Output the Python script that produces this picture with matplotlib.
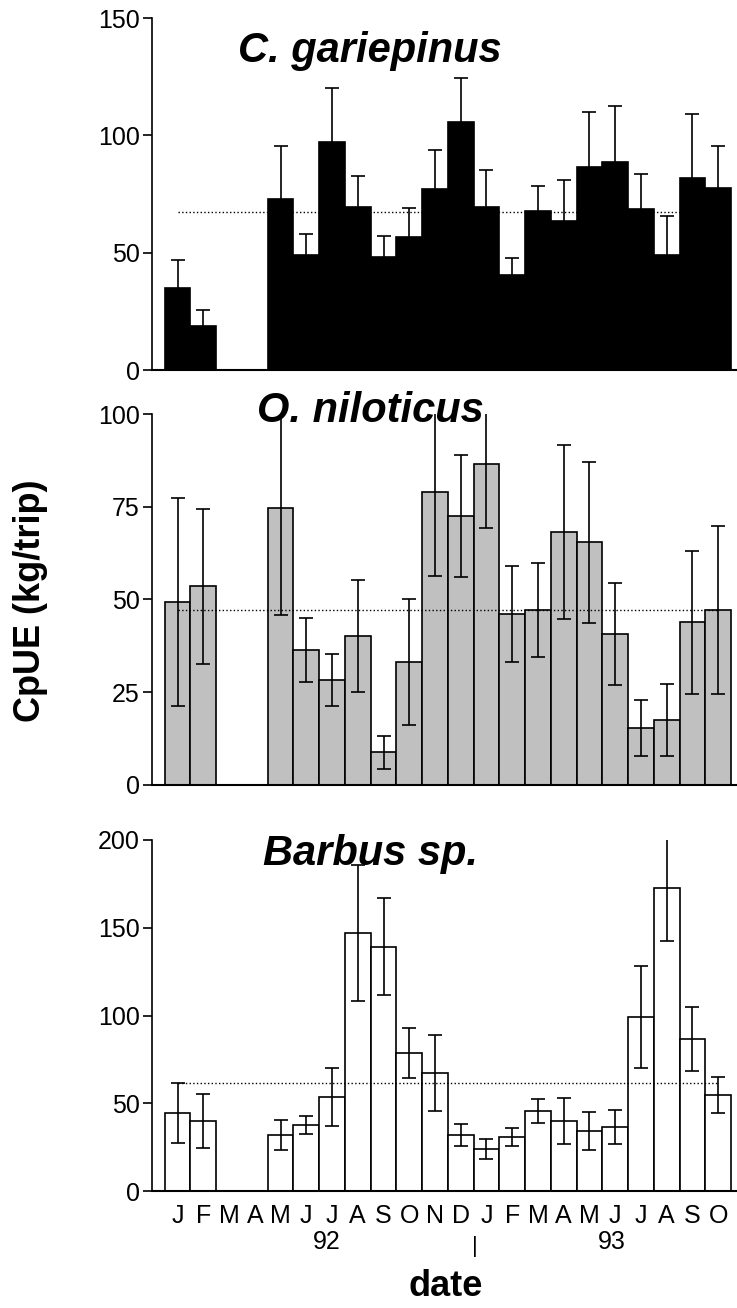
import numpy as np
import matplotlib
matplotlib.use('Agg')
import matplotlib.pyplot as plt

plt.rcParams['font.family'] = ['Liberation Sans', 'DejaVu Sans']

nan = np.nan
months = ['J', 'F', 'M', 'A', 'M', 'J', 'J', 'A', 'S', 'O', 'N', 'D',
          'J', 'F', 'M', 'A', 'M', 'J', 'J', 'A', 'S', 'O']

# C. gariepinus
clarias = [34.9, 18.9, nan, nan, 72.7, 48.9, 97.3, 69.3, 48.0, 56.5, 77.0,
           105.8, 69.3, 40.3, 67.6, 63.4, 86.4, 88.8, 68.5, 48.9, 82.0, 77.7]
clarias_err = [12.0, 6.7, nan, nan, 22.8, 8.9, 22.7, 13.4, 9.1, 12.7, 16.6,
               18.5, 15.9, 7.4, 10.8, 17.6, 23.5, 23.7, 15.0, 16.6, 27.1, 17.8]
clarias_mean = 67.3

# O. niloticus
oreo = [49.3, 53.6, nan, nan, 74.7, 36.4, 28.3, 40.1, 8.7, 33.0, 78.9,
        72.5, 86.5, 46.0, 47.2, 68.2, 65.4, 40.6, 15.2, 17.4, 43.8, 47.2]
oreo_err = [28.1, 20.9, nan, nan, 28.8, 8.7, 7.05, 15.2, 4.35, 17.0, 22.7,
            16.5, 17.3, 13.0, 12.75, 23.6, 21.75, 13.75, 7.55, 9.7, 19.4, 22.65]
oreo_mean = 47.1

# Barbus sp.
barbus = [44.4, 39.8, nan, nan, 31.8, 37.5, 53.5, 147.0, 139.2, 78.7, 67.2,
          31.8, 23.8, 30.7, 45.5, 39.8, 34.1, 36.4, 99.2, 172.4, 86.7, 54.7]
barbus_err = [17.15, 15.45, nan, nan, 8.55, 5.2, 16.55, 39.0, 27.55, 14.3, 21.75,
              6.2, 5.8, 5.2, 6.95, 13.25, 10.95, 9.7, 29.15, 29.9, 18.2, 10.3]
barbus_mean = 61.3

panels = [
    ('C. gariepinus', clarias, clarias_err, clarias_mean, 'black',
     [0, 50, 100, 150], 131.4, [0.2056, 0.7171, 0.7944, 0.2691]),
    ('O. niloticus', oreo, oreo_err, oreo_mean, '#c0c0c0',
     [0, 25, 50, 75, 100], 98.0, [0.2056, 0.4001, 0.7944, 0.2832]),
    ('Barbus sp.', barbus, barbus_err, barbus_mean, 'white',
     [0, 50, 100, 150, 200], 185.7, [0.2056, 0.0894, 0.7944, 0.2684]),
]

fig = plt.figure(figsize=(7.37, 13.08), dpi=100)
ind = np.arange(len(months))

for k, (name, vals, err, mean, col, yt, ty, pos) in enumerate(panels):
    ax = fig.add_axes(pos)
    ax.bar(ind, vals, 1.0, color=col, edgecolor='black', linewidth=1.2, zorder=2)
    ax.errorbar(ind, vals, yerr=err, fmt='none', ecolor='black',
                elinewidth=1.2, capsize=5, capthick=1.2, zorder=3)
    ax.hlines(mean, 0, len(months) - 1, colors='black', linestyles=':',
              linewidth=1.0, zorder=4)
    ax.set_xlim(-1.01, 21.73)
    ax.set_ylim(yt[0], yt[-1])
    ax.set_yticks(yt)
    ax.tick_params(axis='y', direction='out', length=6.5, width=1.2,
                   labelsize=18, pad=2)
    for s in ['top', 'right']:
        ax.spines[s].set_visible(False)
    ax.spines['left'].set_linewidth(1.2)
    ax.spines['bottom'].set_linewidth(1.5)
    ax.text(7.48, ty, name, ha='center', va='baseline', fontsize=30,
            fontweight='bold', style='italic', zorder=10)
    if k < 2:
        ax.set_xticks([])
    else:
        ax.set_xticks(ind)
        ax.set_xticklabels(months, fontsize=18)
        ax.tick_params(axis='x', length=0, pad=9)
        ax.text(5.8, -0.145, '92', transform=ax.get_xaxis_transform(),
                ha='center', va='center', fontsize=18)
        ax.text(16.85, -0.145, '93', transform=ax.get_xaxis_transform(),
                ha='center', va='center', fontsize=18)
        ax.text(11.53, -0.158, '|', transform=ax.get_xaxis_transform(),
                ha='center', va='center', fontsize=16)

fig.text(0.042, 0.541, 'CpUE (kg/trip)', rotation=90, ha='center', va='center',
         fontsize=26, fontweight='bold')
fig.text(0.605, 0.009, 'date', ha='center', va='baseline', fontsize=26,
         fontweight='bold')

fig.savefig('out.png', dpi=100)
